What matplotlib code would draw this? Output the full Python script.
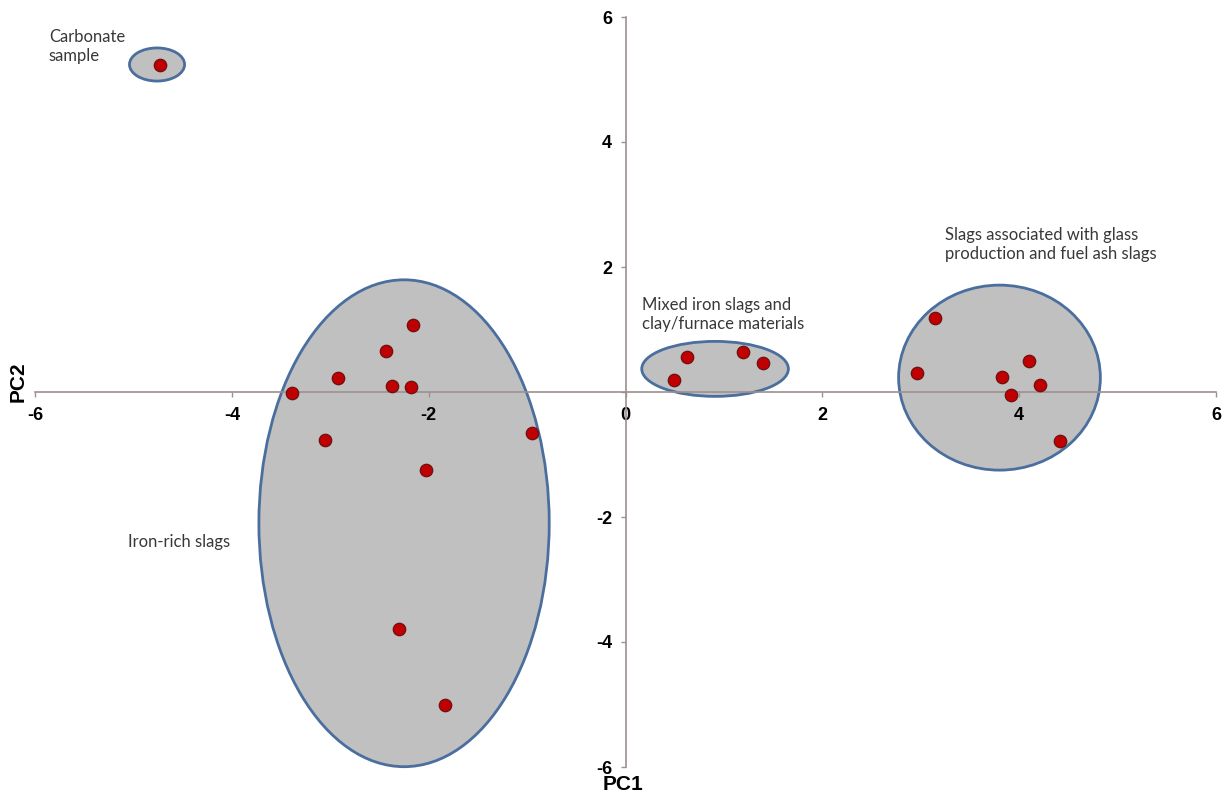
import matplotlib.pyplot as plt
from matplotlib.patches import Ellipse

# PCA scores
carb_x = [-4.73]
carb_y = [5.24]

iron_x = [-2.16, -2.43, -2.92, -2.37, -2.18, -3.39, -3.05, -0.95, -2.03, -2.30, -1.83]
iron_y = [1.07, 0.65, 0.23, 0.09, 0.08, -0.02, -0.76, -0.65, -1.25, -3.79, -5.01]

mixed_x = [0.49, 0.62, 1.19, 1.40]
mixed_y = [0.20, 0.56, 0.64, 0.47]

glass_x = [2.96, 3.14, 3.83, 3.92, 4.10, 4.21, 4.41]
glass_y = [0.30, 1.18, 0.24, -0.04, 0.49, 0.12, -0.78]

ticks = [-6, -4, -2, 0, 2, 4, 6]
group_labels = ["Carbonate\nsample", "Iron-rich slags",
                "Mixed iron slags and\nclay/furnace materials",
                "Slags associated with glass\nproduction and fuel ash slags"]

# hand drawn group outlines (center, width, height)
outlines = [((-4.76, 5.24), 0.56, 0.53),
            ((-2.25, -2.10), 2.95, 7.79),
            ((0.91, 0.37), 1.49, 0.88),
            ((3.80, 0.23), 2.05, 2.96)]

W, H = 1225, 796
fig = plt.figure(figsize=(W / 100, H / 100), dpi=100)
ax = fig.add_axes([35 / W, 1 - 767 / H, (1216 - 35) / W, (767 - 17) / H])

axis_col = '#9c9090'
for (c, w, h) in outlines:
    ax.add_patch(Ellipse(c, w, h, facecolor='#c0c0c0', edgecolor='#4a6e9e',
                         linewidth=2.0, zorder=1, clip_on=False))

for xs, ys in [(carb_x, carb_y), (iron_x, iron_y), (mixed_x, mixed_y), (glass_x, glass_y)]:
    ax.scatter(xs, ys, s=80, color='#c00000', edgecolors='#6e1010',
               linewidths=0.9, zorder=4)

ax.set_xlim(-6, 6)
ax.set_ylim(-6, 6)
ax.spines['left'].set_position('zero')
ax.spines['bottom'].set_position('zero')
ax.spines['top'].set_visible(False)
ax.spines['right'].set_visible(False)
for s in ['left', 'bottom']:
    ax.spines[s].set_color(axis_col)
    ax.spines[s].set_linewidth(1.2)
    ax.spines[s].set_zorder(2)

ax.set_xticks(ticks)
ax.set_yticks(ticks)
ax.set_xticklabels([str(t) for t in ticks])
ax.set_yticklabels([str(t) if t != 0 else '' for t in ticks])
ax.tick_params(axis='x', direction='out', length=3.6, width=1, color=axis_col,
               pad=7, labelsize=13)
ax.tick_params(axis='y', direction='out', length=3.6, width=1, color=axis_col,
               pad=6, labelsize=13)
for lab in ax.get_xticklabels() + ax.get_yticklabels():
    lab.set_fontweight('bold')
    lab.set_fontfamily('Liberation Sans')
ax.patch.set_visible(False)

txt = dict(fontsize=12, family='Lato', color='#383838', linespacing=1.2)
ax.text(-5.86, 5.80, group_labels[0], va='top', ha='left', **txt)
ax.text(-5.06, -2.40, group_labels[1], va='center', ha='left', **txt)
ax.text(0.17, 1.52, group_labels[2], va='top', ha='left', **txt)
ax.text(3.25, 2.64, group_labels[3], va='top', ha='left', **txt)

fig.text(623 / W, 1 - 785 / H, 'PC1', fontsize=15, fontweight='bold',
         family='Liberation Sans', ha='center', va='center')
fig.text(18 / W, 1 - 382 / H, 'PC2', fontsize=15, fontweight='bold',
         family='Liberation Sans', ha='center', va='center', rotation=90)

fig.savefig('out.png', dpi=100, facecolor='white')
